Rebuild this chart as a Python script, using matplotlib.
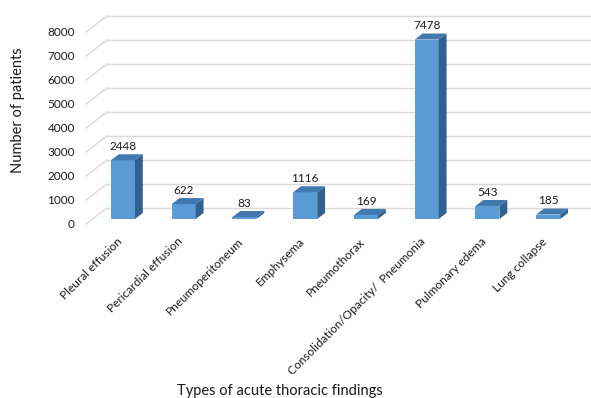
import matplotlib
matplotlib.use("Agg")
import matplotlib.pyplot as plt
from matplotlib.patches import Polygon
import numpy as np

plt.rcParams["font.family"] = ["Lato", "DejaVu Sans"]

categories = [
    "Pleural effusion",
    "Pericardial effusion",
    "Pneumoperitoneum",
    "Emphysema",
    "Pneumothorax",
    "Consolidation/Opacity/  Pneumonia",
    "Pulmonary edema",
    "Lung collapse",
]
patients = [2448, 622, 83, 1116, 169, 7478, 543, 185]
y_ticks = [0, 1000, 2000, 3000, 4000, 5000, 6000, 7000, 8000]

FRONT = "#5B9BD5"
TOP = "#4178B0"
SIDE = "#31628F"
GRID = "#D9D9D9"
TEXT = "#1A1A1A"

W, H = 591, 398
fig = plt.figure(figsize=(W / 100, H / 100), dpi=100)
# front plane of the 3-D box
ax = fig.add_axes([86 / W, (H - 224) / H, 486 / W, 192 / H])
ax.set_xlim(-0.5, 7.5)
ax.set_ylim(0, 8000)
for s in ax.spines.values():
    s.set_visible(False)

# depth of the box expressed in data units (x: categories, y: values)
px_per_cat = 486 / 8
px_per_val = 192 / 8000
DX = 21 / px_per_cat
DY = 16 / px_per_val

# back wall gridlines and the slanted lines on the left side wall
x_left, x_right = -0.5, 7.5
for t in y_ticks:
    ax.plot([x_left, x_left + DX], [t, t + DY], color=GRID, lw=1.0,
            clip_on=False, zorder=1)
    ax.plot([x_left + DX, x_right + DX], [t + DY, t + DY], color=GRID,
            lw=1.0, clip_on=False, zorder=1)

# bars sit in the middle of the depth
f0, f1 = 0.3125, 0.6875
bw = 0.395
ddx, ddy = (f1 - f0) * DX, (f1 - f0) * DY
xs = np.arange(len(categories))
for i, v in zip(xs, patients):
    xc = i + f0 * DX
    y0 = f0 * DY
    ax.bar(xc, v, width=bw, bottom=y0, color=FRONT, zorder=3, clip_on=False)
    x0 = xc - bw / 2
    x1 = xc + bw / 2
    top = Polygon([(x0, y0 + v), (x1, y0 + v), (x1 + ddx, y0 + v + ddy),
                   (x0 + ddx, y0 + v + ddy)], closed=True, facecolor=TOP,
                  edgecolor="none", zorder=3, clip_on=False)
    side = Polygon([(x1, y0), (x1, y0 + v), (x1 + ddx, y0 + v + ddy),
                    (x1 + ddx, y0 + ddy)], closed=True, facecolor=SIDE,
                   edgecolor="none", zorder=3, clip_on=False)
    ax.add_patch(side)
    ax.add_patch(top)
    ax.annotate(f"{v}", xy=(xc, y0 + v + ddy), xytext=(0, 1.5),
                textcoords="offset points", ha="center", va="bottom",
                fontsize=8.5, color=TEXT, annotation_clip=False)

ax.set_yticks(y_ticks)
ax.set_yticklabels([str(t) for t in y_ticks], fontsize=8.5, color=TEXT)
ax.tick_params(axis="y", length=0, pad=8)

ax.set_xticks(xs)
ax.set_xticklabels(categories, rotation=45, ha="right",
                   rotation_mode="anchor", fontsize=8.6, color=TEXT)
ax.tick_params(axis="x", length=0, pad=8.5)

fig.text(18 / W, 1 - 110 / H, "Number of patients", rotation=90,
         ha="center", va="center", fontsize=10.5, color=TEXT)
fig.text(280 / W, 1 - 391 / H, "Types of acute thoracic findings",
         ha="center", va="center", fontsize=10.5, color=TEXT)

fig.savefig("out.png", dpi=100, facecolor="white")
